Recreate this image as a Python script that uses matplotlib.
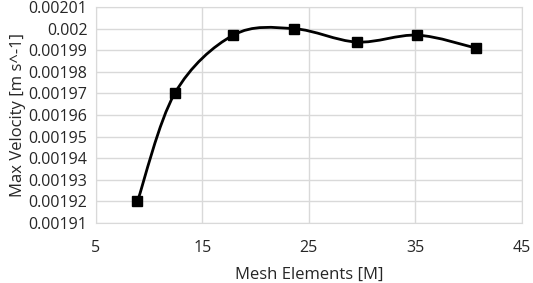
import numpy as np
import matplotlib.pyplot as plt
from matplotlib.path import Path
from matplotlib.patches import PathPatch

# Mesh study data
mesh_elements = [8.9, 12.4, 17.9, 23.6, 29.5, 35.2, 40.7]
max_velocity = [0.00192, 0.00197, 0.001997, 0.00200, 0.0019938, 0.001997, 0.001991]

x_ticks = [5, 15, 25, 35, 45]
y_ticks = [0.00191, 0.00192, 0.00193, 0.00194, 0.00195, 0.00196, 0.00197,
           0.00198, 0.00199, 0.002, 0.00201]
y_tick_labels = ['0.00191', '0.00192', '0.00193', '0.00194', '0.00195', '0.00196',
                 '0.00197', '0.00198', '0.00199', '0.002', '0.00201']

plt.rcParams['font.family'] = ['Open Sans', 'DejaVu Sans']

fig = plt.figure(figsize=(5.33, 2.83), dpi=100)
ax = fig.add_axes([0.180, 0.212, 0.799, 0.763])

# Excel style smoothed line (Catmull-Rom as cubic Bezier segments)
pts = np.column_stack([mesh_elements, max_velocity])
verts = [tuple(pts[0])]
codes = [Path.MOVETO]
n = len(pts)
for i in range(n - 1):
    p0 = pts[i - 1] if i > 0 else pts[i]
    p1 = pts[i]
    p2 = pts[i + 1]
    p3 = pts[i + 2] if i + 2 < n else pts[i + 1]
    c1 = p1 + (p2 - p0) / 6
    c2 = p2 - (p3 - p1) / 6
    verts += [tuple(c1), tuple(c2), tuple(p2)]
    codes += [Path.CURVE4] * 3
ax.add_patch(PathPatch(Path(verts, codes), fill=False, edgecolor='black', lw=2, zorder=3))

ax.plot(mesh_elements, max_velocity, linestyle='none', marker='s', markersize=7.5,
        color='black', zorder=4)

ax.set_xlim(5, 45)
ax.set_ylim(0.00191, 0.00201)
ax.set_xticks(x_ticks)
ax.set_yticks(y_ticks)
ax.set_yticklabels(y_tick_labels)
ax.tick_params(length=0, labelsize=11.5, colors='#262626')
ax.tick_params(axis='x', pad=12)
ax.tick_params(axis='y', pad=6)
ax.grid(True, color='#d9d9d9', lw=1)
ax.set_axisbelow(True)
for s in ax.spines.values():
    s.set_color('#d9d9d9')

ax.set_xlabel('Mesh Elements [M]', fontsize=12, color='#262626', labelpad=8)
ax.set_ylabel('Max Velocity [m s^-1]', fontsize=12, color='#262626', labelpad=2)

plt.savefig('out.png', dpi=100)
